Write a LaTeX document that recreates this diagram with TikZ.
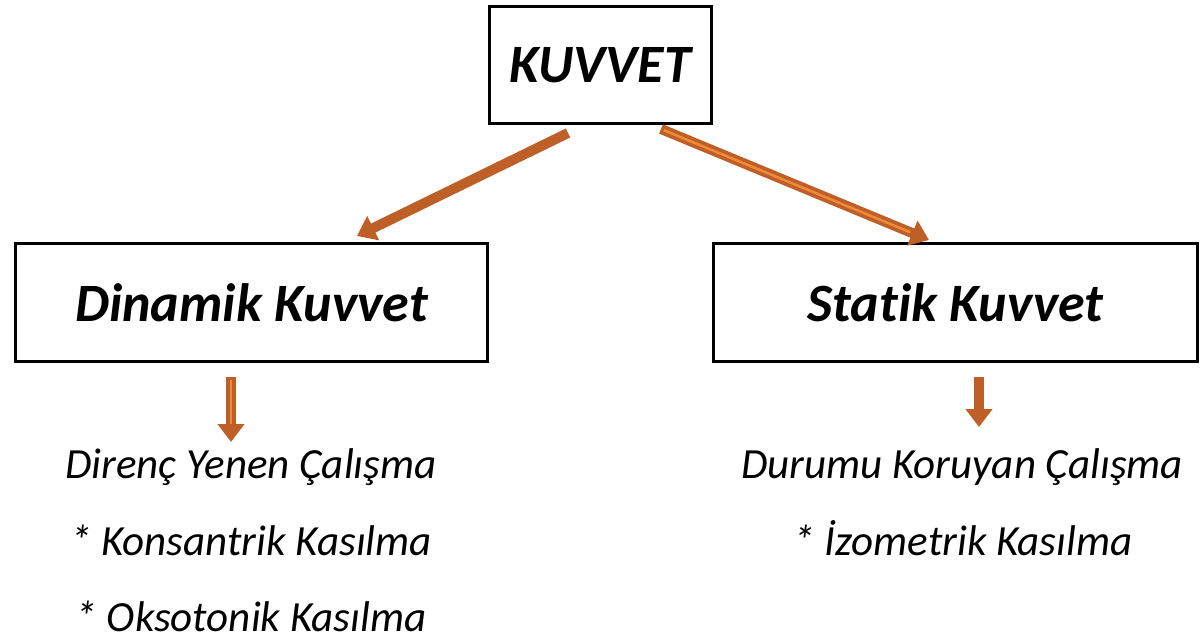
\documentclass[tikz,border=0pt]{standalone}
\usepackage{fontspec}
\setmainfont{Carlito}[Ligatures=CommonOff]
\usetikzlibrary{arrows.meta,calc}
\definecolor{arrowbrown}{HTML}{BD5F27}
\definecolor{arrowglow}{HTML}{F08A3A}

\begin{document}
\begin{tikzpicture}[x=1pt,y=-1pt,
    box/.style={draw, line width=3pt, inner sep=0pt},
    head/.style={font=\fontsize{54}{62}\selectfont\bfseries\itshape},
    item/.style={anchor=base, inner sep=0pt, font=\fontsize{43}{50}\selectfont\itshape},
    bigarrow/.style={draw=arrowbrown, line width=10pt,
        -{Triangle[length=18pt,width=26pt,fill=arrowbrown]}},
    glow/.style={draw=arrowglow, line width=2.5pt}]
  \useasboundingbox (0,0) rectangle (1201,639);

  % Boxes
  \node[box, head, minimum width=222pt, minimum height=117pt] (kuvvet) at (600.5,65) {KUVVET};
  \node[box, head, minimum width=472pt, minimum height=118pt] (dinamik) at (251.5,302.5) {Dinamik Kuvvet};
  \node[box, head, minimum width=484pt, minimum height=118pt] (statik) at (955.5,302.5) {Statik Kuvvet};

  % Arrow ends
  \coordinate (kl) at (568,133);
  \coordinate (kr) at (661,129);
  \coordinate (dt) at (357,236);
  \coordinate (st) at (929,240);
  \coordinate (db) at (231,377);
  \coordinate (dd) at (231,442);
  \coordinate (sb) at (979,377);
  \coordinate (sd) at (979,427);

  % Arrows
  \draw[bigarrow] (kl) -- (dt);
  \draw[bigarrow] (kr) -- (st);
  \draw[glow] ($(kr)!0.01!(st)$) -- ($(kr)!0.93!(st)$);
  \draw[bigarrow] (db) -- (dd);
  \draw[glow] (231,380) -- (231,424);
  \draw[bigarrow] (sb) -- (sd);

  % Lists
  \node[item] (d1) at (251,478) {Direnç Yenen Çalışma};
  \node[item] (d2) at (251,555) {* Konsantrik Kasılma};
  \node[item] (d3) at (251,631) {* Oksotonik Kasılma};
  \node[item] (s1) at (962,478) {Durumu Koruyan Çalışma};
  \node[item] (s2) at (963,555) {* İzometrik Kasılma};
\end{tikzpicture}
\end{document}
